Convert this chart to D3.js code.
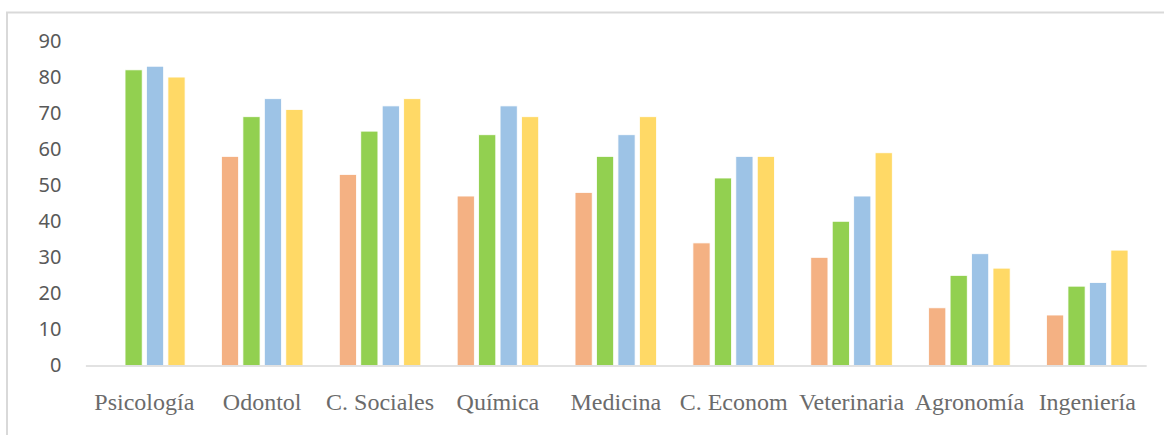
<!DOCTYPE html>
<html>
<head>
<meta charset="utf-8">
<script src="https://cdn.jsdelivr.net/npm/d3@7"></script>
<style>
  html, body { margin: 0; padding: 0; background: #ffffff; }
  svg { display: block; }
</style>
</head>
<body>
<svg id="chart" width="1164" height="435"></svg>
<script>
// Carreras (categorías del eje X)
const categories = ["Psicología", "Odontol", "C. Sociales", "Química", "Medicina",
                    "C. Econom", "Veterinaria", "Agronomía", "Ingeniería"];

// Cuatro series por carrera
const seriesNames = ["Serie 1", "Serie 2", "Serie 3", "Serie 4"];
const serie1 = [null, 58, 53, 47, 48, 34, 30, 16, 14];
const serie2 = [82, 69, 65, 64, 58, 52, 40, 25, 22];
const serie3 = [83, 74, 72, 72, 64, 58, 47, 31, 23];
const serie4 = [80, 71, 74, 69, 69, 58, 59, 27, 32];
const seriesValues = [serie1, serie2, serie3, serie4];

// Marcas del eje Y
const yTicks = [0, 10, 20, 30, 40, 50, 60, 70, 80, 90];

const colors = ["#F4B183", "#92D050", "#9DC3E6", "#FFD966"];

const svg = d3.select("#chart");

// Área de trazado
const plot = { left: 85.4, right: 1146.2, top: 41, bottom: 365.5 };

const x0 = d3.scaleBand()
  .domain(categories)
  .range([plot.left, plot.right])
  .paddingInner(0.3085)
  .paddingOuter(0.3085 / 2);

const x1 = d3.scaleBand()
  .domain(seriesNames)
  .range([0, x0.bandwidth()])
  .paddingInner(0.2);

const y = d3.scaleLinear()
  .domain([0, 90])
  .range([plot.bottom, plot.top]);

// Marco del gráfico (borde izquierdo y superior)
svg.append("path")
  .attr("d", "M7,435V12.5H1164")
  .attr("fill", "none")
  .attr("stroke", "#d9d9d9")
  .attr("stroke-width", 2);

// Eje Y (solo etiquetas)
const yAxis = svg.append("g")
  .attr("transform", `translate(${plot.left},0)`)
  .call(d3.axisLeft(y).tickValues(yTicks).tickSize(0).tickPadding(24));
yAxis.select(".domain").remove();
yAxis.selectAll("text")
  .attr("fill", "#595959")
  .style("font-family", "'Noto Sans', 'Open Sans', sans-serif")
  .style("font-size", "20px");

// Barras
const rows = categories.map((c, i) => ({
  category: c,
  values: seriesNames.map((s, k) => ({ series: s, k, value: seriesValues[k][i] }))
}));

const groups = svg.append("g")
  .selectAll("g")
  .data(rows)
  .join("g")
  .attr("transform", d => `translate(${x0(d.category)},0)`);

groups.selectAll("rect")
  .data(d => d.values.filter(v => v.value != null))
  .join("rect")
  .attr("x", d => x1(d.series))
  .attr("y", d => y(d.value))
  .attr("width", x1.bandwidth())
  .attr("height", d => y(0) - y(d.value))
  .attr("fill", d => colors[d.k])
  .attr("stroke", "#ffffff")
  .attr("stroke-width", 0.8);

// Eje X
const xAxis = svg.append("g")
  .attr("transform", `translate(0,${plot.bottom})`)
  .call(d3.axisBottom(x0).tickSize(0).tickPadding(0).tickSizeOuter(0));
xAxis.select(".domain")
  .attr("stroke", "#d9d9d9")
  .attr("stroke-width", 1.5);
xAxis.selectAll("text")
  .attr("dy", null)
  .attr("y", 44)
  .attr("fill", "#6b6b6b")
  .style("font-family", "'Liberation Serif', 'DejaVu Serif', serif")
  .style("font-size", "24px");
</script>
</body>
</html>
